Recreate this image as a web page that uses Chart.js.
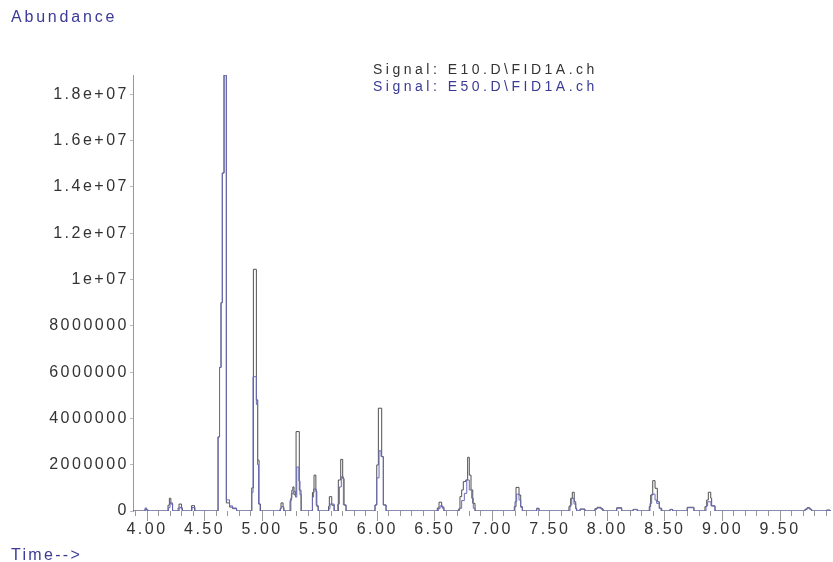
<!DOCTYPE html>
<html>
<head>
<meta charset="utf-8">
<script src="https://cdn.jsdelivr.net/npm/chart.js@4/dist/chart.umd.min.js"></script>
<style>
  body { margin: 0; background: #fff; }
  #wrap { width: 833px; height: 562px; }
</style>
</head>
<body>
<div id="wrap"><canvas id="gcChart" width="833" height="562"></canvas></div>
<script>
// Chromatogram breakpoints (time in min, abundance); each value holds until the next time
const e10Time = [3.878, 3.983, 3.997, 4.009,
  4.182, 4.194, 4.207, 4.222, 4.278, 4.300, 4.308, 4.387, 4.413,
  4.617, 4.630, 4.643, 4.654, 4.669, 4.689, 4.717, 4.743, 4.778,
  4.910, 4.924, 4.950, 4.962, 4.973, 4.986,
  5.156, 5.164, 5.182, 5.190,
  5.249, 5.258, 5.267, 5.277, 5.295, 5.323, 5.338,
  5.437, 5.451, 5.467, 5.475, 5.488,
  5.577, 5.584, 5.605, 5.625,
  5.662, 5.683, 5.700, 5.712, 5.729,
  5.981, 5.996, 6.010, 6.039, 6.053, 6.077,
  6.522, 6.537, 6.560, 6.580,
  6.705, 6.719, 6.734, 6.748, 6.769, 6.786, 6.800, 6.815, 6.830, 6.850,
  7.191, 7.206, 7.232, 7.247, 7.261,
  7.386, 7.406,
  7.666, 7.681, 7.695, 7.712, 7.725, 7.733,
  7.762, 7.805, 7.892, 7.910, 7.945, 7.962,
  8.081, 8.124, 8.223, 8.260,
  8.364, 8.376, 8.394, 8.414, 8.434, 8.451, 8.472,
  8.544, 8.567, 8.694, 8.752,
  8.848, 8.863, 8.877, 8.898, 8.906, 8.935,
  9.717, 9.735, 9.760, 9.775, 9.905, 9.934, 9.943];
const e10Abund = [0, 80000, 30000, 0,
  250000, 550000, 300000, 0, 300000, 100000, 0, 230000, 0,
  3200000, 6200000, 9000000, 14600000, 18833000, 350000, 170000, 100000, 0,
  1000000, 10440000, 4800000, 2200000, 300000, 0,
  100000, 350000, 150000, 0,
  550000, 900000, 1040000, 700000, 3430000, 900000, 0,
  800000, 1550000, 850000, 200000, 0,
  200000, 620000, 250000, 0,
  1340000, 2230000, 1400000, 260000, 0,
  260000, 1990000, 4440000, 2350000, 260000, 0,
  130000, 380000, 170000, 0,
  70000, 620000, 910000, 1270000, 1340000, 2320000, 1550000, 910000, 330000, 0,
  190000, 1020000, 690000, 190000, 0,
  120000, 0,
  190000, 550000, 810000, 400000, 120000, 0,
  80000, 0, 100000, 160000, 100000, 0,
  140000, 0, 70000, 0,
  190000, 690000, 1310000, 980000, 400000, 120000, 0,
  70000, 0, 160000, 0,
  190000, 475000, 810000, 550000, 220000, 0,
  80000, 140000, 80000, 0, 40000, 0, 0];

const e50Time = [3.878, 3.983, 3.997, 4.009,
  4.187, 4.200, 4.222, 4.269, 4.291, 4.304, 4.391, 4.417,
  4.617, 4.630, 4.643, 4.654, 4.669, 4.689, 4.717, 4.743, 4.778,
  4.910, 4.921, 4.950, 4.960, 4.969, 4.982,
  5.160, 5.169, 5.186,
  5.242, 5.254, 5.271, 5.290, 5.301, 5.319, 5.329, 5.341,
  5.437, 5.447, 5.470, 5.486,
  5.580, 5.590, 5.627,
  5.657, 5.671, 5.688, 5.706, 5.729,
  5.981, 5.996, 6.016, 6.033, 6.053, 6.077,
  6.531, 6.546, 6.569, 6.580,
  6.713, 6.734, 6.757, 6.778, 6.800, 6.821, 6.835, 6.850,
  7.197, 7.212, 7.232, 7.247, 7.261,
  7.386, 7.406,
  7.675, 7.690, 7.710, 7.725, 7.733,
  7.762, 7.805, 7.892, 7.910, 7.945, 7.962,
  8.081, 8.124, 8.223, 8.260,
  8.370, 8.385, 8.414, 8.428, 8.451, 8.466,
  8.544, 8.567, 8.694, 8.752,
  8.857, 8.871, 8.900, 8.935,
  9.717, 9.735, 9.760, 9.775, 9.905, 9.934, 9.943];
const e50Abund = [0, 130000, 50000, 0,
  150000, 350000, 0, 130000, 170000, 0, 150000, 0,
  3200000, 6200000, 9000000, 14600000, 18833000, 480000, 220000, 130000, 0,
  800000, 5800000, 4600000, 2000000, 300000, 0,
  120000, 200000, 0,
  450000, 750000, 850000, 600000, 1900000, 1300000, 700000, 0,
  600000, 950000, 250000, 0,
  100000, 300000, 0,
  300000, 1040000, 1480000, 260000, 0,
  260000, 1430000, 2600000, 2350000, 260000, 0,
  100000, 220000, 100000, 0,
  120000, 450000, 760000, 1340000, 910000, 550000, 120000, 0,
  400000, 730000, 475000, 160000, 0,
  100000, 0,
  260000, 550000, 300000, 90000, 0,
  80000, 0, 80000, 130000, 80000, 0,
  120000, 0, 60000, 0,
  330000, 730000, 475000, 330000, 120000, 0,
  60000, 0, 140000, 0,
  220000, 400000, 220000, 0,
  60000, 120000, 60000, 0, 30000, 0, 0];

const seriesNames = ['Signal: E10.D\\FID1A.ch', 'Signal: E50.D\\FID1A.ch'];
const seriesColors = ['#505050', '#6a6ab8'];

const yTickValues = [0, 2000000, 4000000, 6000000, 8000000, 10000000, 12000000, 14000000, 16000000, 18000000];
const yTickLabels = ['0', '2000000', '4000000', '6000000', '8000000', '1e+07', '1.2e+07', '1.4e+07', '1.6e+07', '1.8e+07'];
const xMajorTicks = [4.0, 4.5, 5.0, 5.5, 6.0, 6.5, 7.0, 7.5, 8.0, 8.5, 9.0, 9.5];
const xTickLabels = ['4.00', '4.50', '5.00', '5.50', '6.00', '6.50', '7.00', '7.50', '8.00', '8.50', '9.00', '9.50'];

const textBlue = '#3a3a96';
const fontFamily = '"Liberation Sans", Arial, sans-serif';

function toPoints(times, values) {
  return times.map((t, i) => ({ x: t, y: values[i] }));
}

function majorIndex(v) {
  return xMajorTicks.findIndex(m => Math.abs(m - v) < 1e-6);
}

// wide letter spacing like the ChemStation printout
const spacingPlugin = {
  id: 'spacing',
  beforeUpdate(chart) { chart.ctx.letterSpacing = '2.5px'; },
  beforeDraw(chart) { chart.ctx.letterSpacing = '2.5px'; }
};

// free text: axis captions and the signal legend
const captionPlugin = {
  id: 'captions',
  afterDraw(chart) {
    const ctx = chart.ctx;
    ctx.save();
    ctx.textAlign = 'left';
    ctx.textBaseline = 'middle';
    ctx.font = '16px ' + fontFamily;
    ctx.letterSpacing = '2.8px';
    ctx.fillStyle = textBlue;
    ctx.fillText('Abundance', 11, 18);
    ctx.letterSpacing = '2.3px';
    ctx.fillText('Time-->', 11, 556);
    ctx.font = '14px ' + fontFamily;
    ctx.letterSpacing = '3.5px';
    ctx.fillStyle = '#333';
    ctx.fillText(seriesNames[0], 373, 70);
    ctx.fillStyle = textBlue;
    ctx.fillText(seriesNames[1], 373, 87);
    ctx.restore();
  }
};

function drawChart() {
  const ctx = document.getElementById('gcChart').getContext('2d');
  new Chart(ctx, {
    type: 'line',
    data: {
      datasets: [{
        label: seriesNames[1],
        data: toPoints(e50Time, e50Abund),
        borderColor: seriesColors[1],
        borderWidth: 1,
        pointRadius: 0,
        stepped: true,
        fill: false,
        order: 0
      }, {
        label: seriesNames[0],
        data: toPoints(e10Time, e10Abund),
        borderColor: seriesColors[0],
        borderWidth: 1,
        pointRadius: 0,
        stepped: true,
        fill: false,
        order: 1
      }]
    },
    options: {
      responsive: false,
      animation: false,
      layout: { padding: { top: 75, right: 2, left: 0, bottom: 0 } },
      plugins: {
        legend: { display: false },
        tooltip: { enabled: false }
      },
      scales: {
        x: {
          type: 'linear',
          min: 3.878,
          max: 9.943,
          afterFit(scale) { scale.height = 51; },
          border: { display: false },
          grid: {
            drawOnChartArea: false,
            tickLength: 10,
            tickColor: '#999',
            tickBorderDash: c => (majorIndex(c.tick.value) >= 0 ? [] : [5, 20])
          },
          ticks: {
            stepSize: 0.1,
            includeBounds: false,
            autoSkip: false,
            maxRotation: 0,
            padding: -1,
            color: '#333',
            font: { family: fontFamily, size: 16 },
            callback: v => {
              const i = majorIndex(v);
              return i >= 0 ? xTickLabels[i] : '';
            }
          }
        },
        y: {
          min: 0,
          max: 18833000,
          afterFit(scale) { scale.width = 133; },
          afterBuildTicks(scale) { scale.ticks = yTickValues.map(v => ({ value: v })); },
          border: { display: true, color: '#999' },
          grid: { drawOnChartArea: false, tickLength: 3, tickColor: '#bbb' },
          ticks: {
            padding: 1,
            color: '#333',
            font: { family: fontFamily, size: 16 },
            callback: (v, i) => yTickLabels[i]
          }
        }
      }
    },
    plugins: [spacingPlugin, captionPlugin]
  });
}

window.onload = drawChart;
</script>
</body>
</html>
